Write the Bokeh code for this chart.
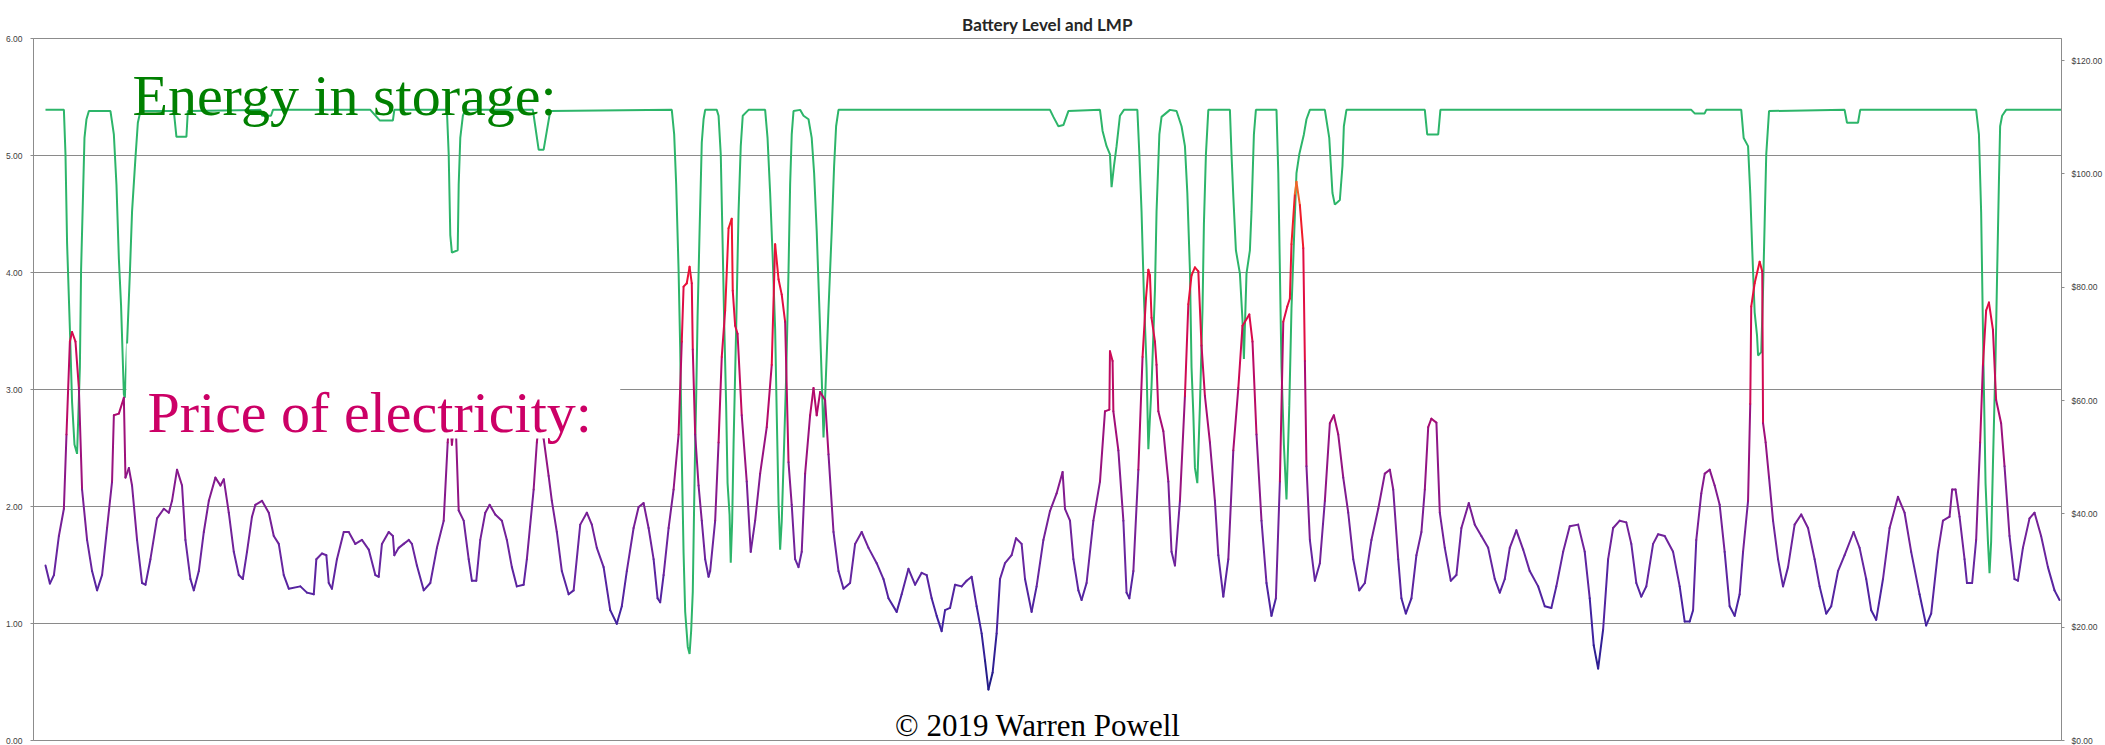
from bokeh.plotting import figure
from bokeh.models import (Range1d, LinearAxis, FixedTicker, PrintfTickFormatter,
                          Label, BoxAnnotation)
from bokeh.embed import file_html
from bokeh.resources import INLINE

# ---------------- data ----------------
title_text = "Battery Level and LMP"
storage_label = "Energy in storage:"
price_label = "Price of electricity:"
credit_text = "\u00a9 2019 Warren Powell"

level_ticks = [0, 1, 2, 3, 4, 5, 6]
price_ticks = [0, 20, 40, 60, 80, 100, 120]

price_hours = [
    0, 2.2, 4.2, 6.7, 9.2, 10.5, 12.2, 13.3, 15, 16.7, 18.3, 20.8, 23.3, 25.8, 28.3, 30.8,
    33.3, 34.2, 36.7, 39.2, 40, 41.7, 43.3, 45.8, 48.3, 50, 52.5, 55.8, 59.2, 61.7, 63.3,
    65.8, 68.3, 70, 72.5, 74.2, 76.7, 79.2, 81.7, 85, 87.5, 89.2, 91.7, 94.2, 96.7, 98.7,
    100.8, 103.3, 105, 108.3, 111.7, 114.2, 116.7, 119.2, 121.7, 127.5, 130.8, 134.2,
    135.5, 138.3, 140.5, 141.7, 143.3, 145.8, 149.2, 151.7, 155, 158.3, 161.7, 165, 166.7,
    168.3, 171.7, 173.8, 174.5, 176.7, 179.2, 181.7, 183.3, 185.8, 189.2, 192.5, 195.8,
    199.2, 201.2, 202.2, 203.3, 205, 206.7, 209.2, 211.7, 213.3, 215.5, 217.5, 220, 222.2,
    225, 228.3, 230.8, 233.3, 235.8, 239.2, 240.8, 244.2, 245.8, 247.5, 249.2, 251.7,
    253.3, 255.8, 258.3, 261.7, 264.2, 267.5, 270.8, 273.3, 275.8, 279.2, 282.5, 285.8,
    288.3, 290.8, 294.2, 296.7, 299.2, 301.7, 304.2, 306.2, 307.5, 309.2, 311.7, 314.2,
    316.7, 318.3, 319.2, 320.8, 322.2, 323.3, 323.8, 325, 326.7, 328.3, 330, 331.7, 332.5,
    335, 336.7, 338.3, 340, 341.7, 343.3, 343.8, 345, 346.2, 348.3, 350.8, 352.8, 355,
    357.5, 360.8, 363.3, 365, 366.7, 368.3, 370, 371.7, 373.3, 375, 376.7, 378.3, 380,
    382.5, 384.2, 385.8, 387.5, 390, 391.7, 394.2, 396.7, 399.2, 402.5, 405, 408.3, 411.7,
    415.8, 419.2, 421.7, 425.8, 428.3, 431.7, 435, 438.3, 440.8, 443.3, 445.8, 448.3, 450,
    452.5, 455, 458.3, 460.8, 463.3, 465.8, 468.3, 470, 471.7, 473.8, 475.8, 477.5, 480,
    483.3, 485.5, 488.3, 490, 493.3, 495.8, 499.2, 502.5, 505.8, 508.8, 510, 512.5, 514.2,
    516.7, 518.3, 520.8, 524.2, 527.5, 530, 532.2, 532.5, 533.8, 534.2, 536.7, 539.2,
    540.8, 542.2, 544.2, 546.7, 548.8, 550.5, 551.7, 552.5, 553.3, 555, 555.8, 556.7,
    559.2, 561.7, 563.3, 565, 567.5, 570, 571.7, 573.3, 575, 576.7, 578.3, 580, 582.5, 585,
    586.7, 589.2, 591.7, 594.2, 596.7, 598.8, 602.2, 603.8, 605.8, 608.3, 610.8, 613.3,
    615.5, 617.5, 619.2, 621.2, 622.5, 623.3, 625, 625.8, 627.5, 629.2, 630, 630.8, 632.5,
    635, 637.5, 640, 642.5, 644.5, 646.7, 649.2, 651.7, 654.2, 657.2, 660, 663.3, 666.7,
    670, 672.5, 674.2, 676.7, 678.3, 680.5, 683.3, 685.8, 688.3, 690, 691.7, 693.3, 695.8,
    697.5, 700, 703, 705.8, 708.3, 712, 715, 718.3, 721.7, 725, 727.5, 730, 732.5, 735.8,
    739.2, 742.5, 746.7, 750, 753.3, 755.8, 759.2, 762.5, 766.7, 770, 772.5, 774.5, 776.7,
    779.2, 781.7, 784.2, 787.5, 790.8, 793.3, 795.8, 798.3, 800.8, 804.2, 806.7, 810,
    814.2, 817.5, 820, 822.5, 824.2, 825.8, 828.3, 830, 832.5, 835, 837.5, 840, 842.5, 845,
    847.5, 849.2, 851.7, 852.8, 853.3, 855, 857.5, 858.8, 859.2, 860.5, 862.2, 864.2,
    866.7, 869.2, 871.7, 875, 878.3, 881.7, 885, 887.5, 890.8, 893.3, 896.7, 900, 904.5,
    907.5, 910.8, 913.3, 915.8, 919.2, 922.5, 926.7, 930, 933.3, 937.5, 940.8, 943.3,
    946.7, 949.2, 952.5, 953.8, 955.5, 957.5, 960, 961.2, 963.8, 965.8, 967.8, 969.2,
    970.8, 972.2, 974.2, 975.8, 978.3, 980, 982.5, 985, 986.7, 989.2, 992.5, 995, 998.3,
    1001.7, 1005, 1007.5,
]
price_values = [
    30.9, 27.7, 29.2, 36.1, 40.9, 54, 70.4, 72.1, 70.4, 62.2, 44.3, 35.4, 29.9, 26.5, 29.2,
    37.5, 45.7, 57.4, 57.7, 60.5, 46.4, 48.1, 45, 35.4, 27.8, 27.5, 32, 39.2, 40.9, 40.2,
    42.3, 47.8, 45, 35.4, 28.5, 26.5, 29.9, 36.8, 42.3, 46.4, 45, 46.1, 40.2, 33.3, 29.2,
    28.5, 33.3, 39.5, 41.6, 42.3, 40.2, 36.1, 34.7, 29.2, 26.8, 27.2, 26.1, 25.8, 32, 33,
    32.7, 27.8, 26.8, 32, 36.8, 36.8, 34.7, 35.4, 33.7, 29.2, 28.9, 34.7, 36.8, 36.1, 32.7,
    34, 34.7, 35.4, 34.7, 30.9, 26.5, 27.8, 34, 38.8, 52.6, 58, 52.2, 58, 40.6, 38.8, 32,
    28.2, 28.2, 35.4, 40.2, 41.6, 39.9, 38.8, 35.4, 30.6, 27.2, 27.5, 32, 44.3, 52.6, 58,
    53.3, 46.7, 42.3, 36.8, 29.9, 25.8, 26.5, 38.1, 40.2, 38.1, 34, 30.6, 23, 20.6, 23.7,
    29.9, 37.5, 41.2, 41.9, 37.5, 32, 25.1, 24.4, 29.2, 37.5, 44.3, 54, 70.4, 80.1, 80.7,
    83.6, 80.7, 69, 54, 45, 38.8, 32, 28.9, 29.9, 38.8, 52.6, 67.7, 75.9, 90.4, 92.1, 79.4,
    73.2, 71.8, 57.4, 45.7, 33.3, 38.8, 47.1, 55.3, 66.3, 87.6, 81.4, 78.7, 73.9, 49.1,
    41.6, 32, 30.6, 33.3, 47.1, 57.4, 62.2, 57.4, 61.5, 60.1, 50.5, 36.8, 29.9, 26.8, 27.8,
    34.7, 36.8, 34, 31.3, 28.5, 25.1, 22.7, 25.8, 30.3, 27.5, 29.6, 29.2, 25.1, 22, 19.3,
    23, 23.4, 27.5, 27.2, 28.2, 28.9, 23.7, 18.9, 14.1, 9, 12, 18.9, 28.5, 31.3, 32.7, 35.7,
    34.7, 28.5, 22.7, 27.2, 35.4, 40.5, 43.6, 47.4, 40.9, 38.8, 32, 26.5, 24.8, 27.8, 38.8,
    45.7, 58.1, 58.4, 68.7, 67, 58.1, 51.2, 38.8, 26.1, 25.1, 29.9, 47.8, 67.7, 78, 83.1,
    82.1, 74.6, 70.4, 66.3, 58.1, 54.6, 45.7, 33.3, 30.9, 42.3, 60.8, 77, 82.1, 83.5, 82.8,
    69.7, 60.8, 52.6, 42.3, 32.7, 25.4, 32, 51.2, 62.2, 73.2, 75.2, 70.4, 54, 38.8, 27.8,
    22, 25.1, 45.7, 73.9, 76.6, 78, 87.6, 96.5, 98.6, 94.5, 86.9, 67, 48.4, 35.4, 28.2,
    31.3, 42.3, 56, 57.4, 54, 46.4, 40.2, 32, 26.5, 27.8, 35.4, 40.9, 47.1, 47.8, 44.3, 32,
    25.1, 22.4, 25.1, 32.7, 36.8, 44.3, 55.3, 56.8, 56.1, 40.2, 34, 28.2, 29.2, 37.5, 41.9,
    38.1, 36.1, 34, 28.5, 26.1, 28.5, 34, 37.1, 33.7, 29.9, 27.2, 23.7, 23.4, 27.2, 33.3,
    37.8, 38.1, 33.3, 25.1, 16.8, 12.7, 19.6, 32, 37.5, 38.8, 38.5, 34.7, 27.8, 25.4, 27.2,
    34.7, 36.4, 36.1, 33.3, 27.2, 21, 21, 23, 35.4, 43.6, 47.1, 47.8, 45, 41.6, 33.3, 23.7,
    22, 25.8, 33.3, 42.3, 59.4, 76.6, 80.7, 84.5, 82.8, 56, 52.6, 46.4, 38.8, 32, 27.2,
    30.6, 38.1, 39.9, 37.5, 32, 27.2, 22.4, 23.7, 29.9, 32.7, 36.8, 34, 28.5, 23, 21.3,
    28.5, 37.5, 43, 40.2, 33.3, 25.8, 20.3, 22.4, 33.3, 38.8, 39.5, 44.3, 44.3, 39.5, 32,
    27.8, 27.8, 35.4, 52.6, 66.3, 75.9, 77.3, 72.5, 60.1, 56, 48.4, 36.1, 28.5, 28.2, 34,
    39.2, 40.2, 36.1, 30.6, 26.5, 24.8,
]

storage_hours = [
    0, 9.2, 10, 10.8, 12.2, 13.3, 14.5, 15.8, 17.2, 17.8, 18.8, 19.5, 20.5, 21.7, 32.5,
    34.2, 35.5, 36.7, 37.8, 39.2, 39.7, 40.8, 42.2, 43.3, 45, 46.2, 47.5, 64.2, 65.5, 70.5,
    71.2, 107.5, 108.3, 112.8, 113.8, 162.5, 167.2, 173.8, 174.5, 200.8, 201.7, 202.5,
    203.3, 206.2, 206.7, 207.5, 208.8, 210, 243.8, 245, 246.7, 249.2, 250.8, 252.5, 313.3,
    314.5, 315.5, 316.7, 317.5, 318.3, 319.2, 320, 321.3, 322.2, 323, 323.8, 324.5, 325,
    325.5, 326.2, 327.2, 328.3, 329.2, 330, 335.8, 336.7, 337.8, 338.8, 339.5, 340.5,
    341.2, 342.2, 342.8, 343.5, 344.2, 345.5, 346.7, 347.8, 348.8, 351.7, 360, 361.2,
    362.5, 363.8, 365, 365.8, 366.7, 367.5, 368.3, 369.5, 370.5, 371.7, 372.5, 373.3,
    374.2, 377.5, 379.2, 381.7, 383.3, 384.5, 385.8, 387.2, 388.3, 389.2, 390, 391.7,
    393.3, 394.5, 395.5, 396.7, 502.5, 504.2, 506.7, 509.2, 511.7, 527.5, 528.8, 530.8,
    532.5, 533.3, 534.5, 535.8, 537.5, 539.5, 546.2, 547.2, 548.3, 549.5, 550.8, 551.7,
    553.3, 555, 555.8, 557.2, 558.3, 562.5, 565.8, 568.3, 570, 571.2, 572.5, 573.3, 574.2,
    575, 576.2, 577.5, 578.8, 579.5, 580.5, 581.7, 592.5, 593.3, 594.2, 595.5, 597.5,
    598.8, 599.5, 600.8, 602.5, 603.3, 604.5, 605.5, 615.8, 616.7, 617.5, 618.3, 619.5,
    620.8, 622.2, 623.3, 624.7, 625.8, 627.2, 629.5, 630.8, 632.5, 640, 642.2, 643.8, 645,
    647.5, 648.8, 649.5, 650.8, 690, 691.2, 696.7, 697.8, 823.3, 825, 830, 830.8, 848.3,
    849.5, 851.7, 852.8, 853.8, 855, 856.2, 856.7, 858.3, 859.2, 860, 860.8, 862.2, 900,
    901.2, 906.7, 907.8, 965.8, 967.2, 968.3, 969.5, 970.5, 971.7, 972.5, 973.3, 974.2,
    975.5, 976.3, 977.2, 977.8, 978.8, 980.8, 1008.3,
]
storage_levels = [
    5.39, 5.39, 5.01, 4.25, 3.52, 2.89, 2.53, 2.45, 3.19, 4.02, 4.68, 5.15, 5.31, 5.38,
    5.38, 5.18, 4.75, 4.12, 3.72, 2.96, 2.93, 3.39, 3.99, 4.52, 4.98, 5.28, 5.38, 5.38,
    5.16, 5.16, 5.38, 5.39, 5.34, 5.34, 5.39, 5.39, 5.30, 5.30, 5.39, 5.39, 5.01, 4.32,
    4.17, 4.19, 4.75, 5.15, 5.34, 5.39, 5.39, 5.25, 5.05, 5.05, 5.21, 5.38, 5.39, 5.18,
    4.75, 4.02, 3.36, 2.43, 1.6, 1.1, 0.80, 0.74, 0.94, 1.27, 2.03, 2.53, 2.93, 3.62, 4.35,
    5.11, 5.31, 5.39, 5.39, 5.34, 5.01, 4.19, 3.59, 2.86, 2.2, 1.93, 1.52, 1.87, 2.53, 3.52,
    4.52, 5.08, 5.34, 5.39, 5.39, 5.15, 4.68, 4.12, 3.52, 2.79, 2.03, 1.63, 1.87, 2.53, 3.1,
    4.02, 4.75, 5.18, 5.38, 5.39, 5.34, 5.31, 5.15, 4.85, 4.35, 3.66, 3.1, 2.59, 2.93, 3.69,
    4.35, 4.91, 5.25, 5.39, 5.39, 5.33, 5.25, 5.26, 5.38, 5.39, 5.21, 5.08, 5.01, 4.73,
    4.91, 5.08, 5.34, 5.39, 5.39, 5.01, 4.52, 3.79, 3.19, 2.49, 3.03, 3.85, 4.52, 5.18,
    5.33, 5.39, 5.38, 5.25, 5.08, 4.68, 4.02, 3.19, 2.79, 2.33, 2.2, 2.86, 3.69, 4.42, 5.01,
    5.39, 5.39, 5.01, 4.65, 4.19, 3.99, 3.59, 3.26, 3.99, 4.19, 4.52, 5.18, 5.39, 5.39,
    4.85, 4.02, 3.19, 2.53, 2.06, 2.86, 3.69, 4.35, 4.85, 5.01, 5.18, 5.31, 5.39, 5.39,
    5.15, 4.68, 4.58, 4.62, 4.91, 5.25, 5.39, 5.39, 5.18, 5.18, 5.39, 5.39, 5.36, 5.36,
    5.39, 5.39, 5.15, 5.08, 4.68, 4.19, 3.66, 3.46, 3.29, 3.32, 3.85, 4.42, 5.01, 5.38,
    5.39, 5.28, 5.28, 5.39, 5.39, 5.18, 4.52, 3.19, 2.2, 1.7, 1.43, 1.7, 2.36, 3.26, 3.99,
    4.78, 5.25, 5.34, 5.39, 5.39,
]

# colour ramp used for the price line (value -> colour)
price_color_stops = [
    (8, (26, 26, 128)), (20, (62, 34, 160)), (32, (104, 38, 160)), (45, (132, 26, 142)),
    (58, (172, 10, 112)), (70, (212, 10, 80)), (82, (234, 16, 56)), (92, (240, 30, 40)),
    (99, (242, 132, 40)),
]


def ramp(v):
    stops = price_color_stops
    if v <= stops[0][0]:
        c = stops[0][1]
    elif v >= stops[-1][0]:
        c = stops[-1][1]
    else:
        for (a, ca), (b, cb) in zip(stops[:-1], stops[1:]):
            if a <= v <= b:
                t = (v - a) / (b - a)
                c = tuple(int(round(ca[i] + t * (cb[i] - ca[i]))) for i in range(3))
                break
    return "#%02x%02x%02x" % c


# ---------------- figure ----------------
W, H = 2105, 745
p = figure(width=W, height=H, output_backend="svg", toolbar_location=None,
           x_range=Range1d(-6, 1008.5), y_range=Range1d(0, 6.0),
           x_axis_location=None,
           min_border_left=33, min_border_right=43, min_border_top=38,
           min_border_bottom=5)
p.background_fill_color = "white"
p.border_fill_color = "white"
p.outline_line_color = "#8c8c8c"

p.title.text = title_text
p.title.align = "center"
p.title.text_font = "Lato"
p.title.text_font_style = "bold"
p.title.text_font_size = "17px"
p.title.text_color = "#262626"
p.title.standoff = 8

p.extra_y_ranges = {"price": Range1d(0, 123.9)}

left = p.yaxis[0]
left.ticker = FixedTicker(ticks=level_ticks)
left.formatter = PrintfTickFormatter(format="%.2f")

right = LinearAxis(y_range_name="price", ticker=FixedTicker(ticks=price_ticks),
                   formatter=PrintfTickFormatter(format="$%.2f"))
p.add_layout(right, "right")

for ax in (left, right):
    ax.axis_line_color = "#8c8c8c"
    ax.major_tick_line_color = "#8c8c8c"
    ax.major_tick_out = 3
    ax.major_tick_in = 0
    ax.minor_tick_line_color = None
    ax.major_label_text_font = "Liberation Sans"
    ax.major_label_text_font_size = "8.5px"
    ax.major_label_text_color = "#404040"
left.major_label_standoff = 8
right.major_label_standoff = 7

p.xgrid.visible = False
p.ygrid.ticker = FixedTicker(ticks=level_ticks)
p.ygrid.grid_line_color = "#8a8a8a"
p.ygrid.grid_line_width = 1

# battery level
p.line(storage_hours, storage_levels, line_color="#2db56a", line_width=2)

# price, coloured by value
seg_colors = [ramp((a + b) / 2.0) for a, b in zip(price_values[:-1], price_values[1:])]
p.segment(x0=price_hours[:-1], y0=price_values[:-1], x1=price_hours[1:],
          y1=price_values[1:], line_color=seg_colors, line_width=2,
          line_cap="round", y_range_name="price")

# overlaid captions
p.add_layout(BoxAnnotation(left=40.5, right=287.5, bottom=2.581, top=3.393,
                           fill_color="white", fill_alpha=1.0, line_color=None))
p.add_layout(Label(x=43.5, y=5.513, text=storage_label, text_font="Liberation Serif",
                   text_font_size="58px", text_color="#008000",
                   text_baseline="alphabetic"))
p.add_layout(Label(x=51, y=2.803, text=price_label, text_font="Liberation Serif",
                   text_font_size="58px", text_color="#cc0066",
                   text_baseline="alphabetic"))
p.add_layout(Label(x=425, y=0.125, text=credit_text, text_font="Liberation Serif",
                   text_font_size="31px", text_color="black",
                   text_baseline="alphabetic"))

with open("out.html", "w", encoding="utf-8") as f:
    f.write(file_html(p, INLINE, title_text))
